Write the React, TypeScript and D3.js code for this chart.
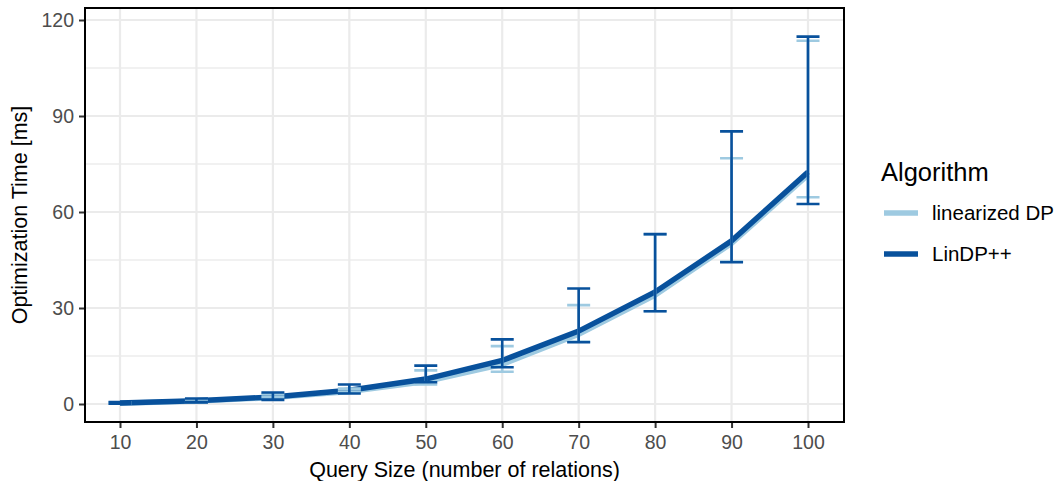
import { useRef, useEffect } from 'react';
import * as d3 from 'd3';

// query sizes (x axis)
const sizes = [10, 20, 30, 40, 50, 60, 70, 80, 90, 100];

// linearized DP (light blue)
const linMean = [0.25, 0.9, 2.0, 3.9, 7.0, 12.4, 21.8, 34.0, 50.2, 71.6];
const linLow = [0.1, 0.5, 2.1, 3.9, 6.1, 10.1, 19.5, 29.0, 44.5, 64.6];
const linHigh = [0.5, 1.4, 3.0, 4.8, 10.5, 18.1, 30.9, 53.0, 76.8, 113.5];

// LinDP++ (dark blue)
const ppMean = [0.3, 1.0, 2.2, 4.3, 7.8, 13.6, 22.8, 35.0, 51.0, 72.5];
const ppLow = [0.1, 0.5, 1.3, 3.3, 6.8, 11.5, 19.3, 29.0, 44.3, 62.5];
const ppHigh = [0.6, 1.7, 3.6, 6.1, 12.0, 20.2, 36.1, 53.1, 85.2, 114.8];

const yTicks = [0, 30, 60, 90, 120];
const yMinor = [15, 45, 75, 105];
const seriesNames = ['linearized DP', 'LinDP++'];
const seriesColors = ['#9ecae1', '#08519c'];

export default function App() {
  const svgRef = useRef<SVGSVGElement>(null);

  useEffect(() => {
    const W = 1058;
    const H = 481;
    const panel = { left: 85, right: 844, top: 8, bottom: 422 };

    const svg = d3.select(svgRef.current)
      .html('')
      .attr('width', W)
      .attr('height', H);

    const font = '"Liberation Sans", Arial, Helvetica, sans-serif';

    // x: 10 -> 120px, 100 -> 808px
    const kx = (808 - 120) / 90;
    const x = d3.scaleLinear()
      .domain([10 - (120 - panel.left) / kx, 100 + (panel.right - 808) / kx])
      .range([panel.left, panel.right]);

    const ky = (404 - 20) / 120;
    const y = d3.scaleLinear()
      .domain([-(panel.bottom - 404) / ky, 120 + (20 - panel.top) / ky])
      .range([panel.bottom, panel.top]);

    svg.append('rect')
      .attr('x', panel.left).attr('y', panel.top)
      .attr('width', panel.right - panel.left)
      .attr('height', panel.bottom - panel.top)
      .attr('fill', '#fff');

    // Сетка
    const grid = svg.append('g');
    grid.selectAll('.minor')
      .data(yMinor)
      .enter()
      .append('line')
      .attr('x1', panel.left).attr('x2', panel.right)
      .attr('y1', d => y(d)).attr('y2', d => y(d))
      .attr('stroke', '#e3e3e3')
      .attr('stroke-width', 1.1);
    grid.selectAll('.majorY')
      .data(yTicks)
      .enter()
      .append('line')
      .attr('x1', panel.left).attr('x2', panel.right)
      .attr('y1', d => y(d)).attr('y2', d => y(d))
      .attr('stroke', '#ebebeb')
      .attr('stroke-width', 2.2);
    grid.selectAll('.majorX')
      .data(sizes)
      .enter()
      .append('line')
      .attr('y1', panel.top).attr('y2', panel.bottom)
      .attr('x1', d => x(d)).attr('x2', d => x(d))
      .attr('stroke', '#ebebeb')
      .attr('stroke-width', 2.2);

    const line = d3.line<number>()
      .x((_, i) => x(sizes[i]))
      .y(d => y(d));

    const means = [linMean, ppMean];
    const lows = [linLow, ppLow];
    const highs = [linHigh, ppHigh];

    // Линии
    means.forEach((m, s) => {
      svg.append('path')
        .datum(m)
        .attr('fill', 'none')
        .attr('stroke', seriesColors[s])
        .attr('stroke-width', 5.4)
        .attr('d', line);
    });

    // Планки погрешностей
    const capHalf = 11.5;
    means.forEach((_, s) => {
      const g = svg.append('g')
        .attr('stroke', seriesColors[s])
        .attr('stroke-width', 2.6)
        .attr('fill', 'none');
      sizes.forEach((sz, i) => {
        const cx = x(sz);
        const y0 = y(lows[s][i]);
        const y1 = y(highs[s][i]);
        g.append('path')
          .attr('d', `M${cx - capHalf},${y1}H${cx + capHalf}M${cx},${y1}V${y0}M${cx - capHalf},${y0}H${cx + capHalf}`);
      });
    });

    // Рамка
    svg.append('rect')
      .attr('x', panel.left).attr('y', panel.top)
      .attr('width', panel.right - panel.left)
      .attr('height', panel.bottom - panel.top)
      .attr('fill', 'none')
      .attr('stroke', '#000')
      .attr('stroke-width', 2);

    // Оси
    const yAxis = svg.append('g')
      .attr('transform', `translate(${panel.left - 1},0)`)
      .call(d3.axisLeft(y).tickValues(yTicks).tickSize(5).tickPadding(5));
    const xAxis = svg.append('g')
      .attr('transform', `translate(0,${panel.bottom + 1})`)
      .call(d3.axisBottom(x).tickValues(sizes).tickSize(5).tickPadding(5));
    [yAxis, xAxis].forEach(a => {
      a.select('.domain').remove();
      a.selectAll('line').attr('stroke', '#333').attr('stroke-width', 2);
      a.selectAll('text')
        .attr('fill', '#4d4d4d')
        .style('font-family', font)
        .style('font-size', '19.5px');
    });
    xAxis.selectAll('text').attr('dy', null).attr('y', 26);

    // Подписи осей
    svg.append('text')
      .attr('x', (panel.left + panel.right) / 2)
      .attr('y', 477)
      .attr('text-anchor', 'middle')
      .style('font-family', font)
      .style('font-size', '21.5px')
      .text('Query Size (number of relations)');

    svg.append('text')
      .attr('transform', `translate(27,${(panel.top + panel.bottom) / 2}) rotate(-90)`)
      .attr('text-anchor', 'middle')
      .style('font-family', font)
      .style('font-size', '21.5px')
      .text('Optimization Time [ms]');

    // Легенда
    const legend = svg.append('g');
    legend.append('text')
      .attr('x', 881)
      .attr('y', 181)
      .style('font-family', font)
      .style('font-size', '25.5px')
      .text('Algorithm');
    seriesNames.forEach((name, i) => {
      const ly = 213 + i * 41;
      legend.append('line')
        .attr('x1', 884).attr('x2', 918)
        .attr('y1', ly).attr('y2', ly)
        .attr('stroke', seriesColors[i])
        .attr('stroke-width', 5.4);
      legend.append('text')
        .attr('x', 932)
        .attr('y', ly)
        .attr('dy', '0.35em')
        .style('font-family', font)
        .style('font-size', '20.5px')
        .text(name);
    });
  }, []);

  return (
    <svg ref={svgRef} style={{ position: 'absolute', left: 0, top: 0, display: 'block' }} />
  );
}
